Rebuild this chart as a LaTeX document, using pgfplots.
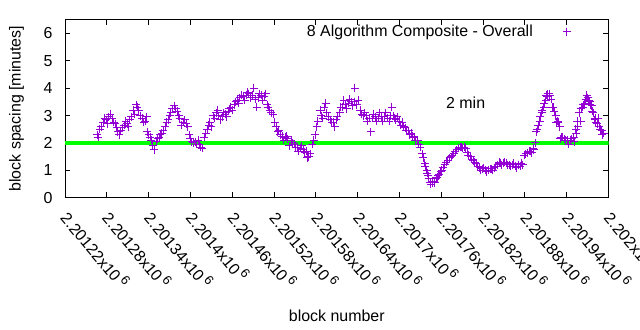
\documentclass[border=0pt]{standalone}
\usepackage{fontspec}
\setmainfont{Liberation Sans}
\usepackage{pgfplots}
\pgfplotsset{compat=1.18}
\definecolor{gpviolet}{HTML}{9400D3}
\definecolor{gpgreen}{HTML}{00FF00}
\newcommand{\sx}{\raisebox{0.4em}{\fontsize{13}{15}\selectfont 6}}
% block numbers are stored as (block - 2201000)
\pgfplotstableread{
b v
266 2.3
270 2.5
275 2.75
279 2.85
283 2.95
288 2.9
292 2.7
296 2.4
300 2.45
305 2.65
309 2.7
313 2.85
318 3.2
322 3.4
326 3.2
331 2.9
335 2.8
338 2.4
342 2.2
346 1.9
351 2.05
355 2.2
359 2.35
364 2.6
368 2.85
372 3.1
377 3.35
381 3.15
385 2.9
390 2.75
394 2.7
398 2.3
402 2.05
407 2.05
411 2.1
415 1.85
420 2.2
424 2.5
428 2.75
433 3.0
437 3.1
441 3.0
446 2.95
450 3.05
454 3.15
458 3.3
463 3.4
467 3.55
471 3.65
476 3.7
480 3.75
484 3.8
489 3.75
493 3.6
497 3.65
502 3.75
506 3.7
510 3.4
514 3.2
519 3.05
523 2.6
527 2.45
532 2.25
536 2.2
540 2.15
545 2.1
549 1.95
553 1.85
558 1.8
562 1.75
566 1.7
570 1.5
575 1.95
579 2.3
583 2.8
588 3.0
592 3.3
596 3.1
601 2.85
605 2.75
609 2.85
614 3.1
618 3.3
622 3.4
627 3.45
631 3.5
635 3.5
639 3.4
644 3.2
648 3.0
652 3.0
657 2.9
661 2.9
665 2.95
670 2.9
674 2.95
678 2.95
683 2.9
687 3.0
691 3.0
695 2.85
700 2.8
704 2.75
708 2.55
713 2.45
717 2.35
721 2.2
726 2.1
730 1.85
733 1.6
736 1.25
739 1.0
741 0.8
744 0.55
747 0.55
750 0.6
753 0.7
756 0.8
759 0.95
763 1.1
767 1.3
772 1.45
776 1.55
780 1.7
785 1.8
789 1.85
793 1.85
797 1.65
802 1.5
806 1.35
810 1.25
815 1.1
819 1.05
823 1.0
828 1.0
832 1.05
836 1.1
841 1.2
845 1.25
849 1.25
853 1.25
858 1.2
862 1.2
866 1.15
871 1.2
875 1.25
879 1.55
884 1.65
888 1.7
892 1.8
895 2.0
898 2.5
901 2.8
904 3.1
907 3.3
910 3.55
912 3.7
915 3.8
918 3.6
921 3.3
924 3.0
927 2.8
930 2.6
932 2.2
937 2.15
941 2.1
945 2.1
950 2.2
953 2.5
955 2.8
958 3.1
961 3.25
964 3.4
967 3.6
970 3.65
973 3.5
976 3.35
978 3.1
981 2.9
984 2.7
987 2.6
990 2.45
993 2.35
268 2.2
272 2.6
277 2.9
281 2.7
285 3.05
290 2.75
294 2.55
298 2.3
302 2.55
307 2.8
311 2.6
315 2.95
320 3.05
324 3.3
328 3.0
333 2.75
337 2.95
340 2.3
344 2.1
348 1.75
353 2.15
357 2.3
361 2.45
366 2.75
370 3.0
374 3.25
379 3.25
383 3.0
387 2.65
392 2.85
396 2.6
400 2.15
404 2.0
409 1.95
413 1.95
417 1.8
422 2.35
426 2.65
430 2.6
435 2.9
439 3.2
443 2.85
448 3.1
452 2.95
456 3.25
460 3.2
465 3.5
469 3.45
473 3.75
478 3.55
482 3.85
486 3.65
491 4.0
495 3.3
499 3.8
504 3.55
508 3.8
512 3.3
516 3.1
521 2.75
525 2.4
529 2.3
534 2.1
538 2.25
542 1.9
547 2.0
551 1.85
555 1.7
560 1.9
564 1.65
568 1.45
572 1.6
577 2.1
581 2.6
586 3.2
590 2.9
594 3.45
598 2.95
603 2.75
607 2.6
611 2.95
616 3.3
620 3.55
624 3.25
629 3.6
633 3.35
636 4.0
641 3.55
646 3.05
650 3.1
654 2.8
659 2.4
663 3.05
667 2.8
672 3.1
676 2.8
680 3.1
685 2.8
689 3.3
693 2.9
697 2.95
702 2.65
706 2.6
710 2.45
715 2.3
719 2.25
723 2.1
728 1.95
734 1.45
737 1.15
740 0.9
742 0.7
745 0.5
748 0.6
751 0.55
754 0.75
757 0.85
761 1.0
765 1.2
769 1.35
774 1.5
778 1.6
782 1.75
787 1.85
791 1.8
795 1.8
799 1.55
804 1.4
808 1.3
812 1.15
817 1.0
821 1.1
825 0.95
830 1.05
834 1.0
838 1.15
843 1.3
847 1.2
851 1.3
855 1.2
860 1.15
864 1.25
868 1.1
873 1.15
877 1.2
881 1.6
886 1.7
890 1.65
893 1.75
896 2.4
899 2.65
902 2.95
905 3.2
908 3.45
911 3.75
913 3.8
916 3.75
919 3.3
922 3.15
925 2.75
928 2.75
931 2.15
934 2.2
939 2.1
943 1.95
947 2.15
951 2.05
954 2.35
956 2.6
960 2.8
963 3.3
966 3.45
969 3.75
972 3.55
974 3.4
977 3.15
980 2.85
982 2.75
985 2.9
988 2.5
991 2.3
}\spacing

\begin{document}
\begin{tikzpicture}[font=\fontsize{16}{19}\selectfont]
\begin{axis}[
  at={(0,0)}, anchor=south west,
  scale only axis, width=543.5bp, height=178bp,
  xmin=220, xmax=1000, ymin=0, ymax=6.5,
  xtick={220,280,...,1000},
  xticklabels={2.20122x10\,\sx,2.20128x10\,\sx,2.20134x10\,\sx,2.2014x10\,\sx,2.20146x10\,\sx,2.20152x10\,\sx,2.20158x10\,\sx,2.20164x10\,\sx,2.2017x10\,\sx,2.20176x10\,\sx,2.20182x10\,\sx,2.20188x10\,\sx,2.20194x10\,\sx,2.202x10\,\sx},
  ytick={0,1,2,3,4,5,6},
  /pgf/number format/assume math mode=true,
  tick align=inside, xtick pos=both, ytick pos=both,
  major tick length=5.5bp,
  tick style={black, line width=0.8bp},
  axis line style={black, line width=0.8bp},
  xticklabel style={xshift=6.5bp, yshift=-11bp, rotate=-50, anchor=north west, inner sep=0pt},
  yticklabel style={xshift=-9bp},
  xlabel={block number},
  ylabel={block spacing [minutes]},
  xlabel style={at={(axis description cs:0.5,-0.663)}, anchor=center},
  ylabel style={at={(axis description cs:-0.0892,0.5)}, anchor=center},
  legend plot pos=right,
  legend cell align=right,
  legend style={draw=none, fill=none, at={(axis description cs:0.9366,0.9326)}, anchor=east, column sep=28bp},
]
\addplot[gpgreen, line width=4bp, forget plot] coordinates {(220,2) (1000,2)};
\addplot[only marks, mark=+, mark size=4bp, gpviolet, line width=1bp] table[x=b, y=v] {\spacing};
\addlegendentry{8 Algorithm Composite - Overall}
\node[black] at (axis cs:795,3.47) {2 min};
\end{axis}
\pgfresetboundingbox
\path[use as bounding box] (-65bp,-132.3bp) rectangle (575bp,197.7bp);
\end{tikzpicture}
\end{document}
